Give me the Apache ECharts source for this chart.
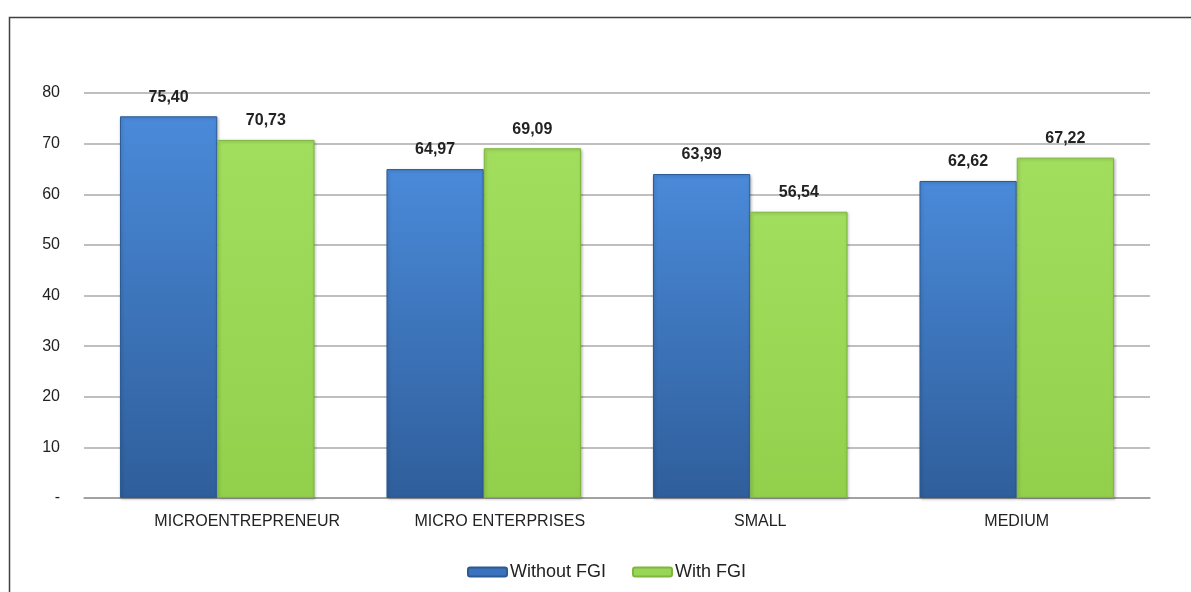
<!DOCTYPE html>
<html>
<head>
<meta charset="utf-8">
<script src="https://cdn.jsdelivr.net/npm/echarts@6/dist/echarts.min.js"></script>
<style>html,body{margin:0;padding:0;background:#fff}#c{width:1191px;height:592px}</style>
</head>
<body>
<div id="c"></div>
<script>
const categories = ['MICROENTREPRENEUR', 'MICRO ENTERPRISES', 'SMALL', 'MEDIUM'];
const withoutFGI = [75.40, 64.97, 63.99, 62.62];
const withFGI = [70.73, 69.09, 56.54, 67.22];
const seriesNames = ['Without FGI', 'With FGI'];

const FONT = '"Liberation Sans", Arial, sans-serif';
// the original's category labels sit slightly right of the category centre
const labelShift = [60, 32, 20, 0];
const blueGrad = new echarts.graphic.LinearGradient(0, 0, 0, 1, [
  {offset: 0, color: '#4a8ad9'}, {offset: 1, color: '#2f5e9b'}
]);
const greenGrad = new echarts.graphic.LinearGradient(0, 0, 0, 1, [
  {offset: 0, color: '#a2de5e'}, {offset: 1, color: '#92d04c'}
]);
const fmt = v => v.toFixed(2).replace('.', ',');

const chart = echarts.init(document.getElementById('c'));
chart.setOption({
  animation: false,
  graphic: [{
    type: 'polyline',
    shape: {points: [[9.5, 592], [9.5, 17.5], [1191, 17.5]]},
    style: {stroke: '#404040', lineWidth: 1.5, fill: null},
    silent: true
  }],
  legend: {
    bottom: 6,
    left: 462,
    itemWidth: 39,
    itemHeight: 9,
    itemGap: 26,
    textStyle: {fontFamily: FONT, fontSize: 18, color: '#222', padding: [0, 0, 0, -2]},
    data: [
      {name: seriesNames[0], itemStyle: {color: '#3a72bd'}},
      {name: seriesNames[1], itemStyle: {color: '#98d655'}}
    ]
  },
  grid: {left: 84, right: 41, top: 93, bottom: 94},
  xAxis: {
    type: 'category',
    data: categories.map((c, i) => ({value: c, textStyle: {padding: [0, 0, 0, labelShift[i]]}})),
    axisLine: {lineStyle: {color: '#999', width: 1.5}},
    axisTick: {show: false},
    axisLabel: {fontFamily: FONT, fontSize: 16, color: '#222', margin: 16}
  },
  yAxis: {
    type: 'value',
    min: 0, max: 80, interval: 10,
    axisLine: {show: false},
    axisTick: {show: false},
    splitLine: {lineStyle: {color: '#aaa', width: 1.5}},
    axisLabel: {fontFamily: FONT, fontSize: 16, color: '#222', margin: 24,
      formatter: v => v === 0 ? '-' : String(v)}
  },
  series: [
    {
      name: seriesNames[0], type: 'bar', data: withoutFGI,
      barGap: '0%', barCategoryGap: '27%',
      itemStyle: {color: blueGrad, borderColor: '#2c5a94', borderWidth: 1,
        shadowColor: 'rgba(0,0,0,0.25)', shadowBlur: 3, shadowOffsetX: 1, shadowOffsetY: 1},
      label: {show: true, position: 'top', distance: 11, fontFamily: FONT, fontSize: 16,
        fontWeight: 'bold', color: '#222', formatter: p => fmt(p.value)}
    },
    {
      name: seriesNames[1], type: 'bar', data: withFGI,
      barGap: '0%', barCategoryGap: '27%',
      itemStyle: {color: greenGrad, borderColor: '#7fb640', borderWidth: 1,
        shadowColor: 'rgba(0,0,0,0.25)', shadowBlur: 3, shadowOffsetX: 1, shadowOffsetY: 1},
      label: {show: true, position: 'top', distance: 11, fontFamily: FONT, fontSize: 16,
        fontWeight: 'bold', color: '#222', formatter: p => fmt(p.value)}
    }
  ]
});
</script>
</body>
</html>
